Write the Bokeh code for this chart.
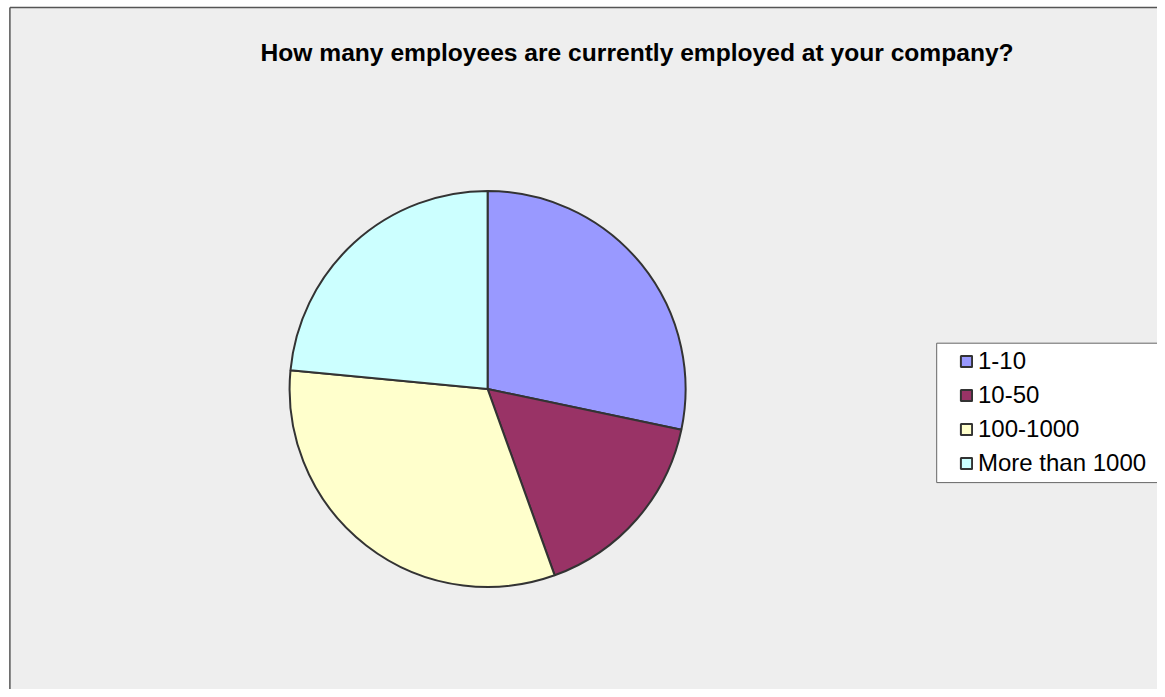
import math
from bokeh.plotting import figure
from bokeh.models import ColumnDataSource, Range1d, Label, Legend, LegendItem
from bokeh.embed import file_html
from bokeh.resources import INLINE

# ---- data ----
categories = ["1-10", "10-50", "100-1000", "More than 1000"]
shares = [28.3, 16.2, 32.0, 23.5]
colors = ["#9999FF", "#993366", "#FFFFCC", "#CCFFFF"]
title_text = "How many employees are currently employed at your company?"

W, H = 1157, 689
BG = "#EEEEEE"

# angles: start at 12 o'clock, go clockwise
total = sum(shares)
starts, ends = [], []
a = math.pi / 2
for s in shares:
    sweep = 2 * math.pi * s / total
    starts.append(a)
    ends.append(a - sweep)
    a -= sweep

src = ColumnDataSource(dict(cat=categories, share=shares, color=colors,
                            start=starts, end=ends))

p = figure(width=W, height=H, output_backend="svg", toolbar_location=None,
           x_range=Range1d(0, W), y_range=Range1d(0, H),
           min_border=0, min_border_left=0, min_border_right=0,
           min_border_top=0, min_border_bottom=0)
p.axis.visible = False
p.grid.visible = False
p.outline_line_color = None
p.background_fill_color = "white"
p.border_fill_color = "white"

# chart area (gray) with left & top border meeting at the top-left corner
bx, by = 9.4, H - 6.9
p.quad(left=[bx], right=[W + 20], top=[by], bottom=[-20],
       fill_color=BG, line_color=None)
p.segment(x0=[bx, bx], y0=[by, by], x1=[bx, W + 20], y1=[-20, by],
          line_color="#555555", line_width=1.5)

cx, cy, R = 487.1, H - 388.5, 198
r = p.wedge(x=cx, y=cy, radius=R, start_angle="end", end_angle="start",
            direction="anticlock", source=src, fill_color="color",
            line_color="#333333", line_width=2)

# title
p.add_layout(Label(x=636.6, y=H - 52, text=title_text, text_align="center",
                   text_baseline="middle", text_font="Liberation Sans",
                   text_font_size="24.6px", text_font_style="bold",
                   text_color="#000000"))

# legend box
p.quad(left=[936.2], right=[1175], top=[H - 342.7], bottom=[H - 482.1],
       fill_color="white", line_color="#666666", line_width=1)

items = [LegendItem(label=c, renderers=[r], index=i) for i, c in enumerate(categories)]
legend = Legend(items=items, location=(959, 212), padding=0, spacing=6,
                glyph_width=14, glyph_height=14, label_standoff=5,
                label_text_font="Liberation Sans", label_text_font_size="24px",
                label_text_color="#000000", label_height=27,
                border_line_alpha=0, background_fill_alpha=0)
p.add_layout(legend, "center")

open("out.html", "w").write(file_html(p, INLINE))
